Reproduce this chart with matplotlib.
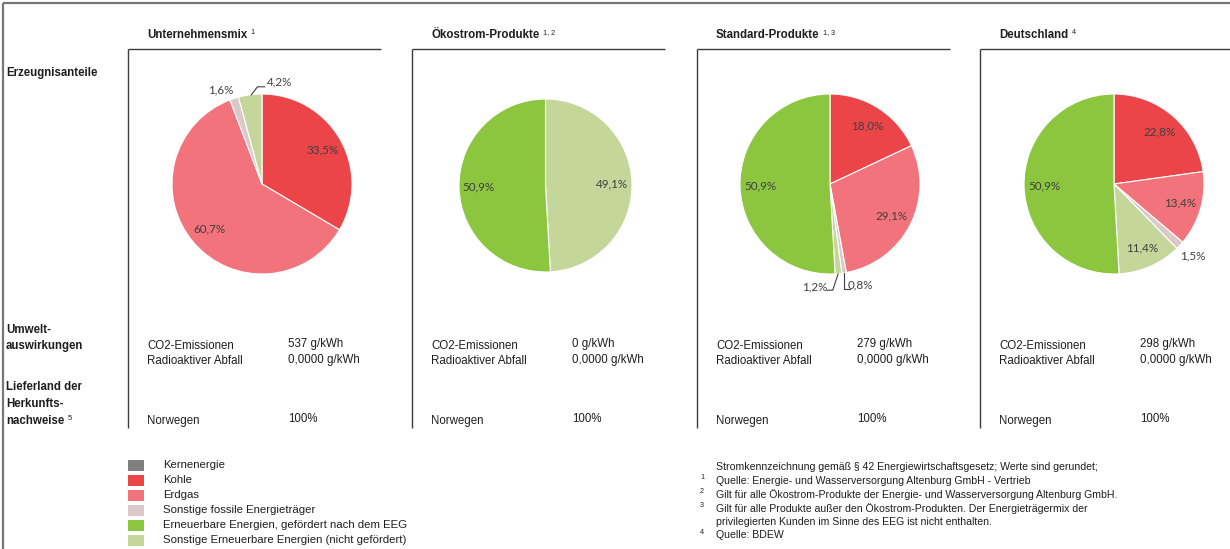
import matplotlib
matplotlib.use("Agg")
import matplotlib.pyplot as plt
from matplotlib import font_manager
from matplotlib.patches import Rectangle

# Energietraeger (Legende, von oben nach unten)
categories = ["Kernenergie", "Kohle", "Erdgas", "Sonstige fossile Energieträger",
              "Erneuerbare Energien, gefördert nach dem EEG",
              "Sonstige Erneuerbare Energien (nicht gefördert)"]
colors = ["#808080", "#eb4449", "#f2737b", "#dcc7c9", "#8cc63f", "#c4d69a"]

# Anteile in % (Reihenfolge wie categories)
unternehmensmix = [0, 33.5, 60.7, 1.6, 0, 4.2]
oekostrom = [0, 0, 0, 0, 50.9, 49.1]
standard = [0, 18.0, 29.1, 0.8, 50.9, 1.2]
deutschland = [0, 22.8, 13.4, 1.5, 50.9, 11.4]

titles = ["Unternehmensmix", "Ökostrom-Produkte", "Standard-Produkte", "Deutschland"]
title_notes = ["1", "1, 2", "1, 3", "4"]
co2 = ["537 g/kWh", "0 g/kWh", "279 g/kWh", "298 g/kWh"]
radio = ["0,0000 g/kWh"] * 4
land = ["Norwegen"] * 4
land_share = ["100%"] * 4

footnotes = [
    ("", "Stromkennzeichnung gemäß § 42 Energiewirtschaftsgesetz; Werte sind gerundet;"),
    ("1", "Quelle: Energie- und Wasserversorgung Altenburg GmbH - Vertrieb"),
    ("2", "Gilt für alle Ökostrom-Produkte der Energie- und Wasserversorgung Altenburg GmbH."),
    ("3", "Gilt für alle Produkte außer den Ökostrom-Produkten. Der Energieträgermix der"),
    ("", "privilegierten Kunden im Sinne des EEG ist nicht enthalten."),
    ("4", "Quelle: BDEW"),
]

# Reihenfolge im Uhrzeigersinn ab 12 Uhr
pie_order = [1, 2, 3, 5, 4]

W, H = 1230, 549
FONT = "Liberation Sans"
installed = {f.name for f in font_manager.fontManager.ttflist}
if "Liberation Sans Narrow" in installed:
    NOTE_FONT, NOTE_SIZE = "Liberation Sans Narrow", 8.6
else:
    NOTE_FONT, NOTE_SIZE = FONT, 7.6
PIE_FONT = "Lato"
TXT = "#1e1e1e"
LINE = "#3c3c3c"

fig = plt.figure(figsize=(W / 100, H / 100), dpi=100)
ax = fig.add_axes([0, 0, 1, 1])
ax.set_xlim(0, W)
ax.set_ylim(H, 0)
ax.axis("off")

# aeusserer Rahmen
ax.plot([3, W], [3, 3], color="#777777", lw=1.6, solid_capstyle="butt")
ax.plot([3, 3], [3, H], color="#777777", lw=1.6, solid_capstyle="butt")

# Zeilenbeschriftungen
def bold(x, y, s):
    return ax.text(x, y, s, fontsize=8.3, fontweight="bold", family=FONT,
                   color=TXT, va="center", ha="left")

bold(6, 73, "Erzeugnisanteile")
bold(6, 330, "Umwelt-")
bold(6, 346, "auswirkungen")
bold(6, 387, "Lieferland der")
bold(6, 404, "Herkunfts-")
t = bold(6, 421, "nachweise")
ax.annotate("5", xy=(1, 1), xycoords=t, xytext=(2.5, 0), textcoords="offset points",
            fontsize=5.5, family=FONT, color=TXT, va="top", ha="left")

panel_left = [128, 412, 697, 980]
pie_center = [(262, 184), (545.5, 185.5), (830, 184), (1114, 184)]
pie_radius = [90, 86.5, 90, 90]
series = [unternehmensmix, oekostrom, standard, deutschland]

for i, x0 in enumerate(panel_left):
    x1 = W if i == 3 else x0 + 253
    ax.plot([x0, x1], [49, 49], color=LINE, lw=1.0, solid_capstyle="butt")
    ax.plot([x0, x0], [49, 428], color=LINE, lw=1.0, solid_capstyle="butt")
    t = ax.text(x0 + 19, 35, titles[i], fontsize=8.3, fontweight="bold", family=FONT,
                color=TXT, va="center", ha="left")
    ax.annotate(title_notes[i], xy=(1, 1), xycoords=t, xytext=(2.5, 0),
                textcoords="offset points", fontsize=5.2, family=FONT, color=TXT,
                va="top", ha="left")
    for y, s in [(346, "CO2-Emissionen"), (361, "Radioaktiver Abfall"), (421, land[i])]:
        ax.text(x0 + 19, y, s, fontsize=8.3, family=FONT, color=TXT, va="center")
    for y, s in [(344, co2[i]), (360, radio[i]), (419, land_share[i])]:
        ax.text(x0 + 160, y, s, fontsize=8.3, family=FONT, color=TXT, va="center")

# Kreisdiagramme
def pct(p):
    return f"{p:.1f}%".replace(".", ",") if p >= 5 else ""

small_labels = [
    [("1,6%", (-0.46, 1.05), None),
     ("4,2%", (0.19, 1.13), [(-0.12, 0.99), (-0.05, 1.08), (0.03, 1.08)])],
    [],
    [("1,2%", (-0.17, -1.14), [(0.09, -1.0), (0.03, -1.18), (-0.03, -1.18)]),
     ("0,8%", (0.34, -1.12), [(0.155, -0.99), (0.155, -1.17), (0.22, -1.17)])],
    [("1,5%", (0.88, -0.80), None)],
]

for i, vals in enumerate(series):
    cx, cy = pie_center[i]
    r = pie_radius[i]
    pax = fig.add_axes([(cx - r) / W, 1 - (cy + r) / H, 2 * r / W, 2 * r / H])
    v = [vals[k] for k in pie_order if vals[k] > 0]
    c = [colors[k] for k in pie_order if vals[k] > 0]
    pax.pie(v, colors=c, startangle=90, counterclock=False, autopct=pct,
            pctdistance=0.77,
            wedgeprops=dict(edgecolor="white", linewidth=0.8),
            textprops=dict(fontsize=8.4, family=PIE_FONT, color="#3f3f3f"))
    pax.set_xlim(-1, 1)
    pax.set_ylim(-1, 1)
    pax.set_aspect("equal")
    pax.axis("off")
    for s, (lx, ly), leader in small_labels[i]:
        pax.text(lx, ly, s, fontsize=8.4, family=PIE_FONT, color="#3f3f3f",
                 ha="center", va="center", clip_on=False)
        if leader:
            pax.plot([p[0] for p in leader], [p[1] for p in leader], color="#3f3f3f",
                     lw=0.8, clip_on=False)

# Legende
for j, (name, col) in enumerate(zip(categories, colors)):
    y = 465 + 15 * j
    ax.add_patch(Rectangle((128, y - 5.5), 16, 11, facecolor=col, edgecolor="none"))
    ax.text(163, y, name, fontsize=8.2, family=FONT, color=TXT, va="center")

# Fussnoten
for j, (num, s) in enumerate(footnotes):
    y = 467 + 13.7 * j
    if num:
        ax.text(700, y - 3, num, fontsize=5.2, family=FONT, color=TXT, va="center")
    ax.text(716, y, s, fontsize=NOTE_SIZE, family=NOTE_FONT, color=TXT, va="center")

fig.savefig("out.png", dpi=100)
